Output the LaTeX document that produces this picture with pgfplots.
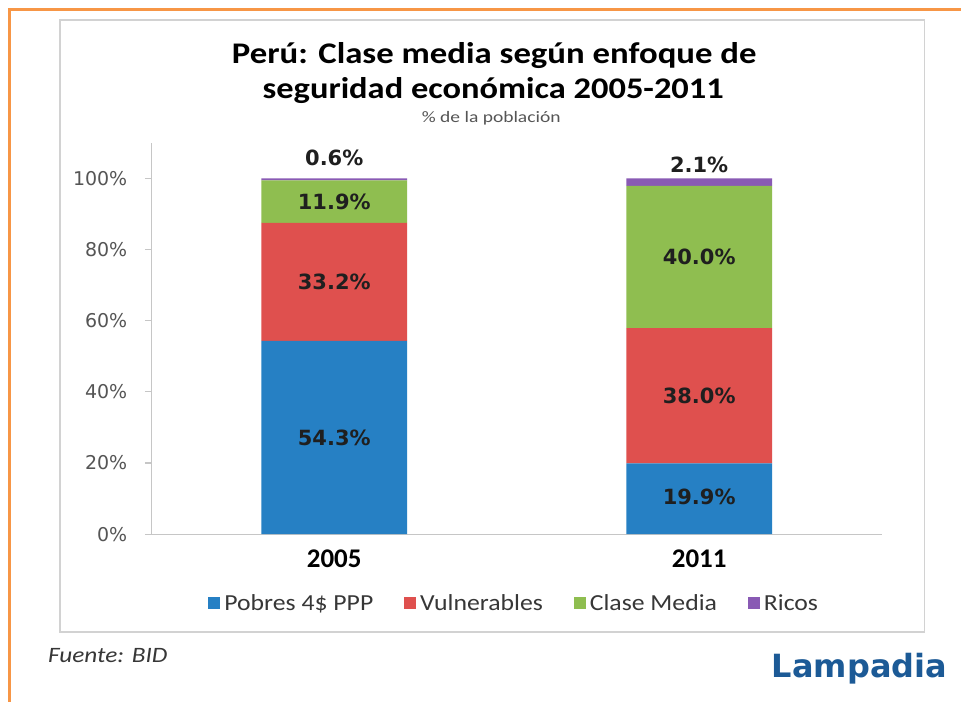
\documentclass[border=0pt]{standalone}
\usepackage{fontspec}
\setmainfont{Carlito}
\newfontfamily\vfont{DejaVu Sans}
\usepackage{pgfplots}
\pgfplotsset{compat=1.18}
\definecolor{cblue}{RGB}{38,128,196}
\definecolor{cred}{RGB}{223,80,78}
\definecolor{cgreen}{RGB}{143,190,80}
\definecolor{cpurple}{RGB}{137,90,180}
\definecolor{corange}{RGB}{247,150,70}
\definecolor{lampblue}{RGB}{28,90,150}
\definecolor{tickgray}{RGB}{85,85,85}
\definecolor{leggray}{RGB}{55,55,55}
\newcommand{\hs}[2]{\scalebox{#1}[1]{#2}}
\pgfplotsset{base/.style={at={(152pt,171pt)}, anchor=south west, scale only axis,
  width=731pt, height=392pt, xmin=-0.5, xmax=1.5, ymin=0, ymax=110}}
\begin{document}
\begin{tikzpicture}[x=1pt,y=1pt]
\fill[white] (0,0) rectangle (962,706);
\draw[corange, line width=3pt] (8,696) -- (962,696);
\draw[corange, line width=3pt] (10,697.5) -- (10,3);
\draw[gray!35, line width=1.5pt] (60,73) rectangle (926,686);
\node[font=\fontsize{30}{34}\selectfont\bfseries] at (495,650) {\hs{1.16}{Perú: Clase media según enfoque de}};
\node[font=\fontsize{30}{34}\selectfont\bfseries] at (494,615) {\hs{1.15}{seguridad económica 2005-2011}};
\node[font=\fontsize{16}{18}\selectfont, text=tickgray] at (492,588) {\hs{1.22}{\% de la población}};
\node[font=\fontsize{22}{24}\selectfont\itshape, anchor=west, text=leggray, inner xsep=0pt] at (48,49) {\hs{1.15}{Fuente: BID}};
\node[font=\vfont\fontsize{32}{36}\selectfont\bfseries, anchor=east, text=lampblue] at (952,36) {Lampadia};
\begin{axis}[
  base,
  ybar stacked, bar width=146pt,
  axis x line=bottom, axis y line=left,
  axis line style={-, draw=gray!45, line width=1.2pt},
  xtick={0,1}, xticklabels={2005,2011},
  x tick label style={font=\fontsize{27}{30}\selectfont\bfseries, yshift=-5pt},
  x tick style={draw=none},
  ytick={0,20,...,100},
  yticklabel={\pgfmathprintnumber{\tick}\%},
  /pgf/number format/assume math mode=true,
  y tick label style={font=\vfont\fontsize{19}{22}\selectfont, text=tickgray, xshift=-14pt},
  y tick style={draw=gray!45, line width=1.2pt},
  tick align=outside, major tick length=7pt,
  legend columns=4,
  legend style={draw=none, fill=none, at={(0.498,-0.176)}, anchor=center,
    font=\fontsize{23}{26}\selectfont, text=leggray,
    nodes={inner xsep=4pt},
    /tikz/every even column/.append style={column sep=27pt}},
  legend image code/.code={\fill[#1] (0pt,-6pt) rectangle (12pt,6pt);},
]
\addplot[fill=cblue, draw=none] coordinates {(0,54.3) (1,19.9)};
\addplot[fill=cred, draw=none] coordinates {(0,33.2) (1,38.0)};
\addplot[fill=cgreen, draw=none] coordinates {(0,11.9) (1,40.0)};
\addplot[fill=cpurple, draw=none] coordinates {(0,0.6) (1,2.1)};
\legend{\hs{1.12}{Pobres 4\$ PPP}, \hs{1.12}{Vulnerables}, \hs{1.12}{Clase Media}, \hs{1.12}{Ricos}}
\end{axis}
\begin{axis}[base, hide axis]
\addplot[only marks, mark=none, nodes near coords, point meta=explicit symbolic,
  every node near coord/.append style={anchor=center, font=\vfont\fontsize{21}{24}\selectfont\bfseries, text=black!88}]
  coordinates {(0,27.15)[54.3\%] (0,70.9)[33.2\%] (0,93.45)[11.9\%] (0,105.8)[0.6\%]
               (1,10.5)[19.9\%] (1,38.9)[38.0\%] (1,77.9)[40.0\%] (1,103.8)[2.1\%]};
\end{axis}
\end{tikzpicture}
\end{document}
